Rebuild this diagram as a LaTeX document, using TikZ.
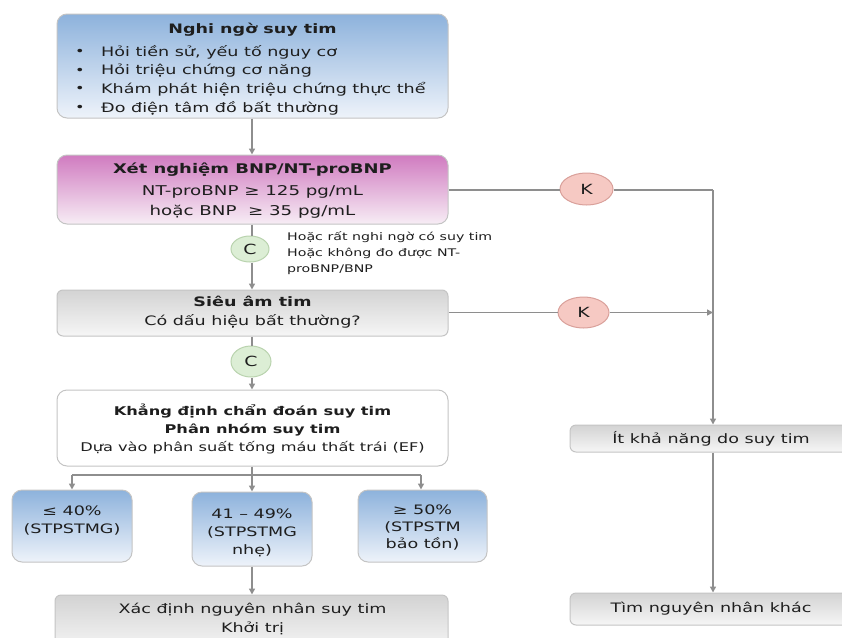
\documentclass[tikz,border=0pt]{standalone}
\usepackage{fontspec}
\setmainfont[FakeStretch=1.35]{DejaVu Sans}
\usetikzlibrary{arrows.meta,shapes.geometric}
\definecolor{lineg}{HTML}{8E8E8E}
\definecolor{bord}{HTML}{C4C4C4}
\definecolor{bluetop}{HTML}{8DB2DC}
\definecolor{bluebot}{HTML}{EEF3FA}
\definecolor{pinktop}{HTML}{D07BC0}
\definecolor{pinkbot}{HTML}{F7EDF5}
\definecolor{greytop}{HTML}{D3D3D3}
\definecolor{greybot}{HTML}{F6F6F6}
\definecolor{kfill}{HTML}{F6C9C3}
\definecolor{kbord}{HTML}{D9A09A}
\definecolor{cfill}{HTML}{DCEED5}
\definecolor{cbord}{HTML}{B9D3AE}
\definecolor{txt}{HTML}{1E1E1E}
\tikzset{
  box/.style={draw=bord, line width=1pt, rounded corners=10pt, inner sep=0pt, text=txt},
  bluebox/.style={box, top color=bluetop, bottom color=bluebot},
  pinkbox/.style={box, top color=pinktop, bottom color=pinkbot},
  greybox/.style={box, top color=greytop, bottom color=greybot, rounded corners=6pt},
  whitebox/.style={box, fill=white},
  kell/.style={ellipse, draw=kbord, fill=kfill, line width=1pt, inner sep=0pt, text=txt, font=\fontsize{14}{14}\selectfont},
  cell/.style={ellipse, draw=cbord, fill=cfill, line width=1pt, inner sep=0pt, text=txt, font=\fontsize{14}{14}\selectfont},
  conn/.style={draw=lineg, line width=1.5pt},
  arr/.style={conn, -{Triangle[length=6pt,width=6pt]}},
  txtn/.style={inner sep=0pt, text=txt},
  bul/.style={txtn, font=\fontsize{12}{12}\selectfont},
  bt/.style={txtn, anchor=west, font=\fontsize{13}{13}\selectfont},
}
\begin{document}
\begin{tikzpicture}[x=1pt,y=-1pt]
\useasboundingbox (0,0) rectangle (842,637);
% boxes
\node[bluebox, minimum width=391pt, minimum height=104pt] (b1) at (252.5,66) {};
\node[txtn, font=\fontsize{13}{13}\selectfont\bfseries] (t1) at (252.5,30) {Nghi ngờ suy tim};
\node[bul] (u1) at (80,52.5) {•};
\node[bul] (u2) at (80,71) {•};
\node[bul] (u3) at (80,89.5) {•};
\node[bul] (u4) at (80,108) {•};
\node[bt] (l1) at (101,52) {Hỏi tiền sử, yếu tố nguy cơ};
\node[bt] (l2) at (101,71) {Hỏi triệu chứng cơ năng};
\node[bt] (l3) at (101,89.5) {Khám phát hiện triệu chứng thực thể};
\node[bt] (l4) at (101,108) {Đo điện tâm đồ bất thường};
\node[pinkbox, minimum width=391pt, minimum height=69pt] (b2) at (252.5,189.5) {};
\node[txtn, font=\fontsize{13.3}{13.3}\selectfont\bfseries] (t2) at (252.5,170) {Xét nghiệm BNP/NT-proBNP};
\node[txtn, font=\fontsize{13.5}{20}\selectfont, align=center] (t2b) at (252.5,202) {NT-proBNP ≥ 125 pg/mL\\hoặc BNP\ \ ≥ 35 pg/mL};
\node[greybox, minimum width=391pt, minimum height=46pt] (b3) at (252.5,313) {};
\node[txtn, font=\fontsize{13}{19}\selectfont, align=center] (t3) at (252.5,312.5) {\textbf{Siêu âm tim}\\Có dấu hiệu bất thường?};
\node[whitebox, minimum width=391pt, minimum height=76pt] (b4) at (252.5,428) {};
\node[txtn, font=\fontsize{12}{18}\selectfont, align=center] (t4) at (252.5,429) {\textbf{Khẳng định chẩn đoán suy tim}\\\textbf{Phân nhóm suy tim}\\Dựa vào phân suất tống máu thất trái (EF)};
\node[bluebox, minimum width=120pt, minimum height=72pt] (b5a) at (72,526) {};
\node[txtn, font=\fontsize{13}{18}\selectfont, align=center] (t5a) at (72,521) {≤ 40\%\\(STPSTMG)};
\node[bluebox, minimum width=120pt, minimum height=74pt] (b5b) at (252,529) {};
\node[txtn, font=\fontsize{13}{18}\selectfont, align=center] (t5b) at (252,533) {41 – 49\%\\(STPSTMG\\nhẹ)};
\node[bluebox, minimum width=129pt, minimum height=72pt] (b5c) at (422.5,526) {};
\node[txtn, font=\fontsize{13}{17}\selectfont, align=center] (t5c) at (422.5,528) {≥ 50\%\\(STPSTM\\bảo tồn)};
\node[greybox, minimum width=393pt, minimum height=56pt] (b6) at (251.5,623) {};
\node[txtn, font=\fontsize{13}{19}\selectfont, align=center] (t6) at (252.5,618.5) {Xác định nguyên nhân suy tim\\Khởi trị};
\node[greybox, minimum width=290pt, minimum height=27pt] (b7) at (715,438.5) {};
\node[txtn, font=\fontsize{13}{13}\selectfont] (t7) at (711,438.5) {Ít khả năng do suy tim};
\node[greybox, minimum width=290pt, minimum height=32pt] (b8) at (715,609) {};
\node[txtn, font=\fontsize{13}{13}\selectfont] (t8) at (711,609) {Tìm nguyên nhân khác};
% decision ellipses
\node[kell, minimum width=53pt, minimum height=32pt] (k1) at (586.5,189) {K};
\node[kell, minimum width=51pt, minimum height=31pt] (k2) at (583.5,312.5) {K};
\node[cell, minimum width=38pt, minimum height=26pt] (c1) at (250,249) {C};
\node[cell, minimum width=40pt, minimum height=31pt] (c2) at (251,361.5) {C};
\node[txtn, anchor=north west, font=\fontsize{10.5}{16}\selectfont, align=left] (note) at (287,231) {Hoặc rất nghi ngờ có suy tim\\Hoặc không đo được NT-\\proBNP/BNP};
% coordinates
\coordinate (v1) at (713,190);
\coordinate (v2) at (713,312.5);
\coordinate (br) at (252,475);
\coordinate (brl) at (72,475);
\coordinate (brr) at (421,475);
% connectors
\draw[arr] (b1.south -| 252,0) -- (b2.north -| 252,0);
\draw[conn] (b2.south -| 252,0) -- (c1.north -| 252,0);
\draw[arr] (c1.south -| 252,0) -- (b3.north -| 252,0);
\draw[conn] (b3.south -| 252,0) -- (c2.north -| 252,0);
\draw[arr] (c2.south -| 252,0) -- (b4.north -| 252,0);
\draw[conn] (b4.south -| 252,0) -- (br);
\draw[conn] (brl) -- (brr);
\draw[arr] (brl) -- (b5a.north -| brl);
\draw[arr] (br) -- (b5b.north -| br);
\draw[arr] (brr) -- (b5c.north -| brr);
\draw[arr] (b5b.south -| 252,0) -- (b6.north -| 252,0);
\draw[conn] (b2.east |- v1) -- (k1.west |- v1);
\draw[conn] (k1.east |- v1) -- (v1);
\draw[arr] (v1) -- (b7.north -| v1);
\draw[conn] (b3.east |- v2) -- (k2.west |- v2);
\draw[arr] (k2.east |- v2) -- (v2);
\draw[arr] (b7.south -| v1) -- (b8.north -| v1);
\end{tikzpicture}
\end{document}
